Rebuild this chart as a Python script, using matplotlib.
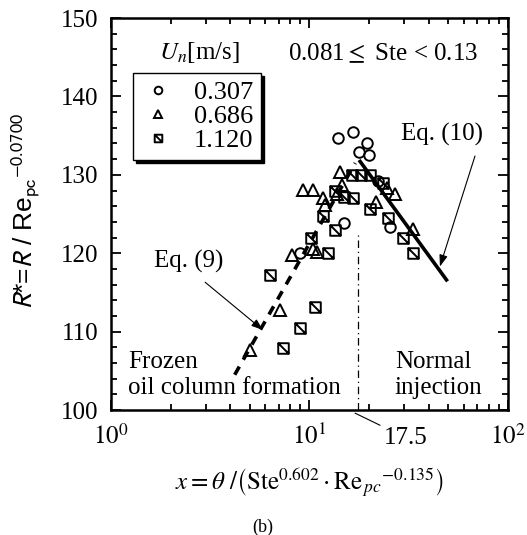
import matplotlib
matplotlib.use('Agg')
import matplotlib.pyplot as plt
from matplotlib.path import Path
from matplotlib.ticker import MultipleLocator, LogLocator, NullFormatter, FixedLocator

plt.rcParams['font.family'] = ['Liberation Serif', 'DejaVu Serif']
plt.rcParams['mathtext.fontset'] = 'stix'

# data
x_0307 = [13.97, 16.5, 19.6, 17.8, 19.9, 14.9, 25.4, 8.96, 22.2]
y_0307 = [134.7, 135.4, 134.1, 132.9, 132.5, 123.9, 123.3, 120.0, 129.2]

x_0686 = [14.2, 9.3, 10.45, 11.7, 12.0, 14.5, 13.8, 21.6, 24.5, 27.0, 33.3, 8.13, 10.45, 10.87, 7.1, 5.01]
y_0686 = [130.4, 128.1, 128.1, 127.1, 126.1, 128.7, 127.5, 126.5, 128.3, 127.5, 123.1, 119.8, 120.5, 120.2, 112.8, 107.7]

x_1120 = [16.3, 18.1, 20.2, 23.5, 13.4, 15.0, 16.6, 11.7, 13.4, 20.2, 24.9, 29.7, 33.3,
          10.2, 12.4, 6.32, 10.7, 8.96, 7.38]
y_1120 = [130.0, 130.0, 130.0, 129.0, 128.0, 127.2, 127.0, 124.7, 123.0, 125.7, 124.5, 121.9, 120.0,
          121.9, 120.0, 117.2, 113.2, 110.4, 107.9]

eq9_x = [4.2, 17.0]
eq9_y = [104.5, 131.5]
eq10_x = [18.0, 49.0]
eq10_y = [131.7, 116.6]

x_split = 17.5
split_top = 122.3

# square with a diagonal
sq_marker = Path([(-1, -1), (1, -1), (1, 1), (-1, 1), (-1, -1), (-1, 1), (1, -1)],
                 [Path.MOVETO, Path.LINETO, Path.LINETO, Path.LINETO, Path.CLOSEPOLY,
                  Path.MOVETO, Path.LINETO])

fig = plt.figure(figsize=(5.27, 5.35), dpi=100)
ax = fig.add_axes([0.2106, 0.2336, 0.7533, 0.7327])

mk = dict(ls='none', mfc='none', mec='black', mew=1.4)
ax.plot(x_0307, y_0307, marker='o', ms=7.6, label='0.307', **mk)
ax.plot(x_0686, y_0686, marker='^', ms=8.6, label='0.686', **mk)
ax.plot(x_1120, y_1120, marker=sq_marker, ms=7.6, label='1.120', **mk)

ax.plot(eq9_x, eq9_y, color='black', lw=2.6, ls=(0, (2.6, 2.2)))
ax.plot(eq10_x, eq10_y, color='black', lw=2.6)
ax.plot([x_split, x_split], [100, split_top], color='black', lw=0.9, ls=(0, (6, 3, 1, 3)))

ax.set_xscale('log')
ax.set_xlim(1, 100)
ax.set_ylim(100, 150)
ax.xaxis.set_major_locator(FixedLocator([1, 10, 100]))
ax.set_xticklabels([r'$10^{0}$', r'$10^{1}$', r'$10^{2}$'])
ax.xaxis.set_minor_locator(LogLocator(base=10, subs=range(2, 10)))
ax.xaxis.set_minor_formatter(NullFormatter())
ax.yaxis.set_major_locator(MultipleLocator(10))
ax.yaxis.set_minor_locator(MultipleLocator(2))

ax.tick_params(which='both', direction='in', top=True, right=True, width=1.3)
ax.tick_params(which='major', length=7)
ax.tick_params(which='minor', length=4)
ax.tick_params(axis='y', labelsize=18, pad=9)
ax.tick_params(axis='x', labelsize=18, pad=10)
for s in ax.spines.values():
    s.set_linewidth(1.8)

leg = ax.legend(loc='upper left', bbox_to_anchor=(0.055, 0.86), borderaxespad=0,
                fontsize=19, markerscale=0.72, frameon=True, fancybox=False,
                edgecolor='black', handletextpad=0.7, handlelength=1.3,
                labelspacing=0.02, borderpad=0.3,
                shadow={'color': 'black', 'alpha': 1})
leg.get_frame().set_linewidth(1.0)

ax.text(0.224, 0.911, r'$U_n$[m/s]', transform=ax.transAxes, fontsize=18,
        ha='center', va='center')
ax.text(0.685, 0.911, r'0.081$\leq$ Ste < 0.13', transform=ax.transAxes, fontsize=18,
        ha='center', va='center')

ax.text(0.834, 0.702, 'Eq. (10)', transform=ax.transAxes, fontsize=18, ha='center', va='center')
ax.annotate('', xy=(45.4, 118.3), xytext=(68.2, 132.4),
            arrowprops=dict(arrowstyle='-|>,head_length=0.7,head_width=0.25', color='black',
                            lw=0.8, shrinkA=0, shrinkB=0))
ax.text(0.196, 0.378, 'Eq. (9)', transform=ax.transAxes, fontsize=18, ha='center', va='center')
ax.annotate('', xy=(5.83, 110.2), xytext=(2.98, 116.3),
            arrowprops=dict(arrowstyle='-|>,head_length=0.7,head_width=0.25', color='black',
                            lw=0.8, shrinkA=0, shrinkB=0))

ax.text(0.043, 0.122, 'Frozen', transform=ax.transAxes, fontsize=18, ha='left', va='center')
ax.text(0.043, 0.056, 'oil column formation', transform=ax.transAxes, fontsize=18,
        ha='left', va='center')
ax.text(0.715, 0.122, 'Normal', transform=ax.transAxes, fontsize=18, ha='left', va='center')
ax.text(0.715, 0.056, 'injection', transform=ax.transAxes, fontsize=18, ha='left', va='center')

ax.annotate('17.5', xy=(x_split * 0.97, 99.6), xycoords='data',
            xytext=(0.688, -0.071), textcoords='axes fraction', fontsize=18,
            ha='left', va='center', annotation_clip=False,
            arrowprops=dict(arrowstyle='-', color='black', lw=0.8, shrinkA=1, shrinkB=0))

fig.text(309 / 527, 1 - 483 / 535,
         r'$x=\theta\ /\left(\mathrm{Ste}^{0.602}\cdot\mathrm{Re}_{\,pc}{}^{-0.135}\right)$',
         fontsize=18, ha='center', va='center')
fig.text(26 / 527, 1 - 211 / 535,
         r'$R$*=$R$ / Re$_{\mathrm{pc}}$$^{-0.0700}$', family='Liberation Sans',
         math_fontfamily='stixsans', fontsize=19, rotation=90, ha='center', va='center')
fig.text(263 / 527, 1 - 527 / 535, '(b)', fontsize=13, ha='center', va='center')

fig.savefig('out.png', dpi=100)
